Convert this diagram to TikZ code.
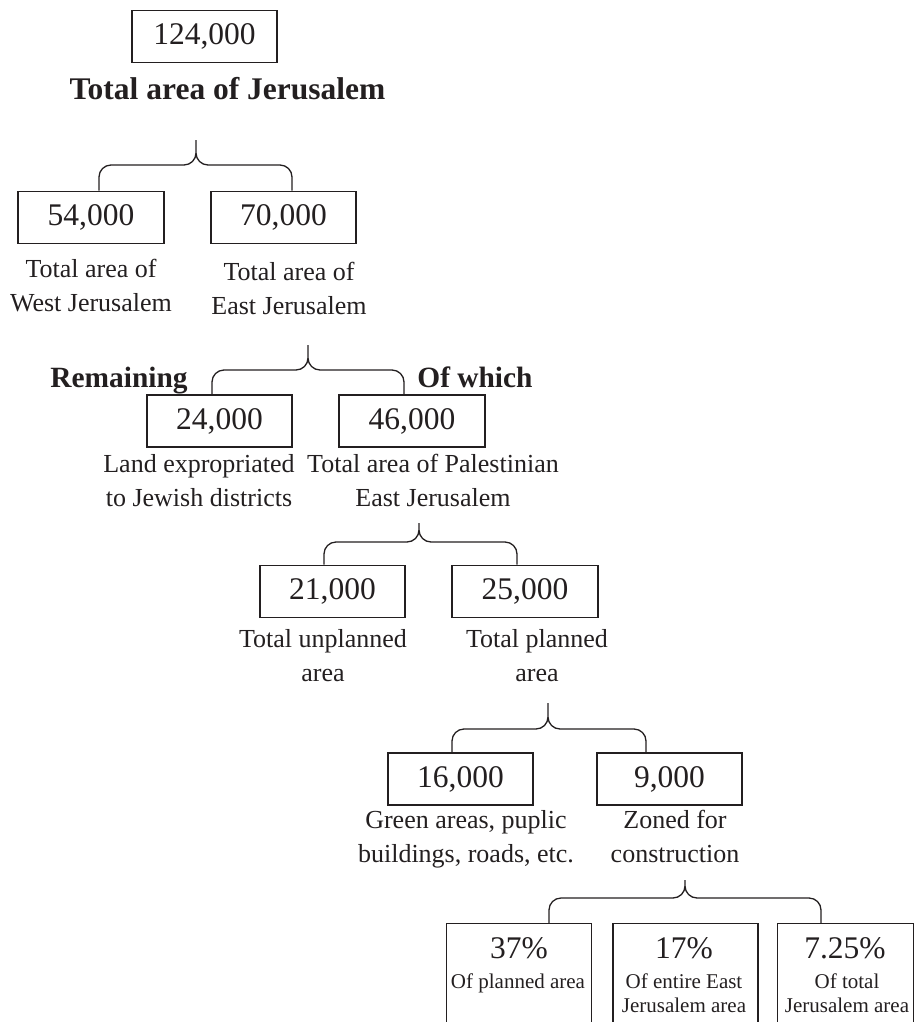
\documentclass[tikz,border=0pt]{standalone}
\usepackage{fontspec}
\setmainfont{Liberation Serif}
\usetikzlibrary{calc}
\definecolor{ink}{HTML}{231F20}

\newcommand{\areabrace}[4]{%
  \draw[braceline] let \p1=(#2), \p2=(#3), \p3=(#4) in
    (\p2) -- (\x2,\y1-#1-6pt)
    .. controls (\x2,\y1-#1-2.7pt) and (\x2+2.7pt,\y1-#1) .. (\x2+6pt,\y1-#1)
    -- (\x1-6pt,\y1-#1)
    .. controls (\x1-2.7pt,\y1-#1) and (\x1,\y1-#1+2.7pt) .. (\x1,\y1-#1+6pt)
    -- (\p1) -- (\x1,\y1-#1+6pt)
    .. controls (\x1,\y1-#1+2.7pt) and (\x1+2.7pt,\y1-#1) .. (\x1+6pt,\y1-#1)
    -- (\x3-6pt,\y1-#1)
    .. controls (\x3-2.7pt,\y1-#1) and (\x3,\y1-#1-2.7pt) .. (\x3,\y1-#1-6pt)
    -- (\p3);}

\begin{document}
\begin{tikzpicture}[x=0.5pt, y=-0.5pt, color=ink,
    numbox/.style={draw, line width=0.85pt, minimum width=72.75pt, minimum height=26pt, inner sep=0pt, font=\fontsize{15.75}{18}\selectfont},
    areatext/.style={anchor=north, align=center, inner sep=0pt, font=\fontsize{13}{17}\selectfont},
    headtext/.style={inner sep=0pt, font=\fontsize{#1}{18}\selectfont\bfseries},
    braceline/.style={line width=0.65pt},
    openbox/.style={minimum width=72pt, minimum height=49pt, inner sep=0pt},
    pcttext/.style={anchor=base, inner sep=0pt, font=\fontsize{15.75}{18}\selectfont},
    smalltext/.style={anchor=north, align=center, inner sep=0pt, font=\fontsize{10.5}{12.25}\selectfont}]
        \useasboundingbox (0,0) rectangle (914,1022);

        % whole city
        \node[numbox] at (204.5,36.5) (total){124,000};
        \node[headtext=15.75, anchor=base] at (227.5,100) (title){Total area of Jerusalem};
        \coordinate (tip1) at (196,140);

        % west / east
        \node[numbox] at (91,217.5) (west){54,000};
        \node[numbox] at (283.5,217.5) (east){70,000};
        \node[areatext] at (91,259) (westtxt){Total area of\\West Jerusalem};
        \node[areatext] at (289,262) (easttxt){Total area of\\East Jerusalem};
        \areabrace{12.5pt}{tip1}{$(west.north)+(8,0)$}{$(east.north)+(8.5,0)$}
        \coordinate (tip2) at (308,345);

        % east split
        \node[headtext=14.7, anchor=base west] at (50,387) (remain){Remaining};
        \node[headtext=14.7, anchor=base west] at (417,387) (ofwhich){Of which};
        \node[numbox] at (219.5,421) (expro){24,000};
        \node[numbox] at (412,421) (pales){46,000};
        \node[areatext] at (199,454) (exprotxt){Land expropriated\\to Jewish districts};
        \node[areatext] at (433,454) (palestxt){Total area of Palestinian\\East Jerusalem};
        \areabrace{12.5pt}{tip2}{$(expro.north)+(-7.5,0)$}{$(pales.north)+(-8,0)$}
        \coordinate (tip3) at (419,523);

        % planned / unplanned
        \node[numbox] at (332.5,591.5) (unplan){21,000};
        \node[numbox] at (525,591.5) (plan){25,000};
        \node[areatext] at (323,629) (unplantxt){Total unplanned\\area};
        \node[areatext] at (537,629) (plantxt){Total planned\\area};
        \areabrace{9.5pt}{tip3}{$(unplan.north)+(-8.5,0)$}{$(plan.north)+(-8,0)$}
        \coordinate (tip4) at (548,703);

        % planned split
        \node[numbox] at (460.5,779) (green){16,000};
        \node[numbox] at (669.5,779) (zoned){9,000};
        \node[areatext] at (466,810) (greentxt){Green areas, puplic\\buildings, roads, etc.};
        \node[areatext] at (675,810) (zonedtxt){Zoned for\\construction};
        \areabrace{13pt}{tip4}{$(green.north)+(-8.5,0)$}{$(zoned.north)+(-23.5,0)$}
        \coordinate (tip5) at (685,880);

        % shares
        \node[openbox] at (519,973) (pct1){};
        \node[openbox] at (685.5,973) (pct2){};
        \node[openbox, minimum width=67.5pt] at (845.5,973) (pct3){};
        \foreach \pc in {pct1,pct2,pct3}
          \draw[line width=0.85pt] (\pc.south west) |- (\pc.north east) -- (\pc.south east);
        \node[pcttext] at (519,958) (pct1num){37\%};
        \node[pcttext] at (684,958) (pct2num){17\%};
        \node[pcttext] at (845,958) (pct3num){7.25\%};
        \node[smalltext] at (518,973) (pct1txt){Of planned area};
        \node[smalltext] at (684,973) (pct2txt){Of entire East\\Jerusalem area};
        \node[smalltext] at (847,973) (pct3txt){Of total\\Jerusalem area};
        \areabrace{9pt}{tip5}{$(pct1.north)+(30,0)$}{$(pct3.north)+(-24.5,0)$}
      \end{tikzpicture}
\end{document}
